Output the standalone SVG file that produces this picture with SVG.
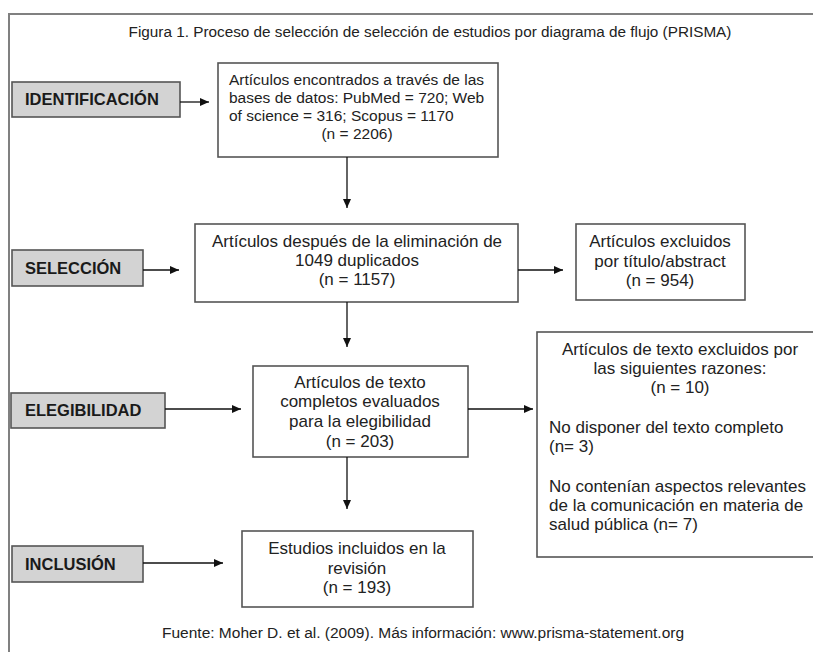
<svg xmlns="http://www.w3.org/2000/svg" width="813" height="652" viewBox="0 0 813 652">
<defs>
<marker id="ah" markerWidth="10" markerHeight="10" refX="9" refY="5" orient="auto" markerUnits="userSpaceOnUse">
<path d="M0,1 L9,5 L0,9 Z" fill="#111"/>
</marker>
<style>
text{font-family:"Liberation Sans",Arial,sans-serif;fill:#222}
.t{font-size:17px}
.ts{font-size:15.5px}
.c{text-anchor:middle}
.lab{font-size:16.5px;font-weight:bold;fill:#1a1a1a}
.stage{fill:#d3d3d3;stroke:#555;stroke-width:1.6}
.box{fill:#fff;stroke:#555;stroke-width:1.6}
.conn line{stroke:#111;stroke-width:1.3;marker-end:url(#ah)}
</style>
</defs>
<rect width="813" height="652" fill="#fff"/>
<path d="M9,660 L9,14 L820,14" fill="none" stroke="#808080" stroke-width="2"/>
<text x="430" y="37" class="c" style="font-size:15.3px">Figura 1. Proceso de selección de selección de estudios por diagrama de flujo (PRISMA)</text>

<g id="identificacion">
<rect class="stage" x="12" y="82" width="168" height="35"/>
<text class="lab" x="25" y="105">IDENTIFICACIÓN</text>
</g>
<g id="seleccion">
<rect class="stage" x="12" y="250" width="131" height="36"/>
<text class="lab" x="25" y="274">SELECCIÓN</text>
</g>
<g id="elegibilidad">
<rect class="stage" x="11" y="393" width="154" height="35"/>
<text class="lab" x="25" y="416">ELEGIBILIDAD</text>
</g>
<g id="inclusion">
<rect class="stage" x="12" y="546" width="131" height="36"/>
<text class="lab" x="25" y="570">INCLUSIÓN</text>
</g>

<g id="encontrados">
<rect class="box" x="218" y="63" width="280" height="94"/>
<text class="ts" x="229" y="85">Artículos encontrados a través de las</text>
<text class="ts" x="229" y="103">bases de datos: PubMed = 720; Web</text>
<text class="ts" x="229" y="121">of science = 316; Scopus = 1170</text>
<text class="ts c" x="357" y="139">(n = 2206)</text>
</g>
<g id="duplicados">
<rect class="box" x="195" y="224" width="323" height="78"/>
<text class="t c" x="357" y="247">Artículos después de la eliminación de</text>
<text class="t c" x="357" y="266">1049 duplicados</text>
<text class="t c" x="357" y="285">(n = 1157)</text>
</g>
<g id="excluidos">
<rect class="box" x="576" y="224" width="169" height="76"/>
<text class="t c" x="660" y="247">Artículos excluidos</text>
<text class="t c" x="660" y="267">por título/abstract</text>
<text class="t c" x="660" y="286">(n = 954)</text>
</g>
<g id="evaluados">
<rect class="box" x="253" y="366" width="215" height="91"/>
<text class="t c" x="360" y="388">Artículos de texto</text>
<text class="t c" x="360" y="407">completos evaluados</text>
<text class="t c" x="360" y="427">para la elegibilidad</text>
<text class="t c" x="360" y="447">(n = 203)</text>
</g>
<g id="razones">
<rect class="box" x="537" y="332" width="290" height="225"/>
<text class="t c" x="680" y="355">Artículos de texto excluidos por</text>
<text class="t c" x="680" y="374">las siguientes razones:</text>
<text class="t c" x="680" y="393">(n = 10)</text>
<text class="t" x="549" y="433">No disponer del texto completo</text>
<text class="t" x="549" y="452">(n= 3)</text>
<text class="t" x="549" y="492">No contenían aspectos relevantes</text>
<text class="t" x="549" y="511">de la comunicación en materia de</text>
<text class="t" x="549" y="530">salud pública (n= 7)</text>
</g>
<g id="incluidos">
<rect class="box" x="242" y="531" width="231" height="76"/>
<text class="t c" x="357" y="554">Estudios incluidos en la</text>
<text class="t c" x="357" y="574">revisión</text>
<text class="t c" x="357" y="593">(n = 193)</text>
</g>

<g id="connectors" class="conn">
<line x1="180" y1="102" x2="209" y2="102"/>
<line x1="347" y1="157" x2="347" y2="208"/>
<line x1="143" y1="270" x2="179" y2="270"/>
<line x1="518" y1="270" x2="563" y2="270"/>
<line x1="347" y1="302" x2="347" y2="347"/>
<line x1="165" y1="409" x2="241" y2="409"/>
<line x1="468" y1="409" x2="533" y2="409"/>
<line x1="347" y1="457" x2="347" y2="509"/>
<line x1="143" y1="563" x2="223" y2="563"/>
</g>

<text x="162" y="638" style="font-size:15.5px">Fuente: Moher D. et al. (2009). Más información: www.prisma-statement.org</text>
</svg>
